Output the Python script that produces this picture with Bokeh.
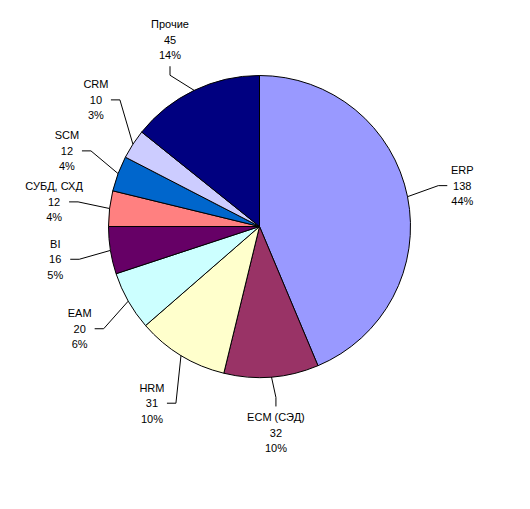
import math
from bokeh.plotting import figure
from bokeh.models import ColumnDataSource
from bokeh.core.properties import value
from bokeh.embed import file_html
from bokeh.resources import INLINE

# ---- data (clockwise from 12 o'clock) ----
categories = ["ERP", "ECM (СЭД)", "HRM", "EAM", "BI", "СУБД, СХД", "SCM", "CRM", "Прочие"]
counts = [138, 32, 31, 20, 16, 12, 12, 10, 45]
colors = ["#9999FF", "#993366", "#FFFFCC", "#CCFFFF", "#660066",
          "#FF8080", "#0066CC", "#CCCCFF", "#000080"]

# ---- geometry ----
W, H = 514, 493
PX = 151.0                 # pixels per data unit (pie radius = 1)
CX, CY = 259.0, 226.0      # pie centre in figure pixels
x0 = -CX / PX
x1 = (W - CX) / PX
y1 = CY / PX
y0 = -(H - CY) / PX

p = figure(width=W, height=H, x_range=(x0, x1), y_range=(y0, y1),
           output_backend="svg", toolbar_location=None,
           x_axis_type=None, y_axis_type=None, min_border=0,
           background_fill_color="white", border_fill_color="white")
p.outline_line_color = None
p.grid.visible = False

total = sum(counts)
starts, ends, mids = [], [], []
c = 0.0
for v in counts:
    f0 = c / total
    c += v
    f1 = c / total
    starts.append(math.pi / 2 - 2 * math.pi * f0)
    ends.append(math.pi / 2 - 2 * math.pi * f1)
    mids.append(math.pi / 2 - 2 * math.pi * (f0 + f1) / 2)

src = ColumnDataSource(dict(start=starts, end=ends, color=colors))
p.wedge(x=0, y=0, radius=1.0, start_angle="start", end_angle="end",
        direction="clock", fill_color="color", line_color="black",
        line_width=1, source=src)

# ---- label placement with simple vertical de-overlap per side ----
LR = 1.37
LINE = 15.5 / PX
GAP = 51 / PX
n = len(counts)
Lx = [LR * math.cos(a) for a in mids]
Ly = [LR * math.sin(a) for a in mids]
side = [(1 if math.cos(a) > 0 else -1) if abs(math.cos(a)) > 0.5 else 0 for a in mids]
for sgn in (-1, 1):
    idx = sorted([i for i in range(n) if side[i] == sgn], key=lambda i: Ly[i])
    for k in range(1, len(idx)):
        a, b = idx[k - 1], idx[k]
        if Ly[b] < Ly[a] + GAP:
            Ly[b] = Ly[a] + GAP
    for i in idx:
        if abs(Ly[i]) < LR:
            Lx[i] = sgn * math.sqrt(LR ** 2 - Ly[i] ** 2)

lead_x, lead_y = [], []
names, vals, pcts = [], [], []
n_y, v_y, p_y = [], [], []
for i, (cat, v, a) in enumerate(zip(categories, counts, mids)):
    ex, ey = math.cos(a), math.sin(a)
    if side[i] != 0:
        s = side[i]
        endx = Lx[i] - s * 15 / PX
        elbx = endx - s * 9 / PX
        lead_x.append([ex, elbx, endx])
        lead_y.append([ey, Ly[i], Ly[i]])
    else:
        s = 1 if ey > 0 else -1
        endy = Ly[i] - s * (1.5 * LINE + 3 / PX)
        elby = endy - s * 9 / PX
        lead_x.append([ex, Lx[i], Lx[i]])
        lead_y.append([ey, elby, endy])
    names.append(cat)
    vals.append(str(v))
    pcts.append(f"{round(v / total * 100)}%")
    n_y.append(Ly[i] + LINE)
    v_y.append(Ly[i])
    p_y.append(Ly[i] - LINE)

p.multi_line(xs=lead_x, ys=lead_y, line_color="black", line_width=1)

font = value("Liberation Sans")
for ys, txt in ((n_y, names), (v_y, vals), (p_y, pcts)):
    p.text(x=Lx, y=ys, text=txt, text_font=font, text_font_size="11px",
           text_align="center", text_baseline="middle", text_color="black")

open("out.html", "w").write(file_html(p, INLINE))
